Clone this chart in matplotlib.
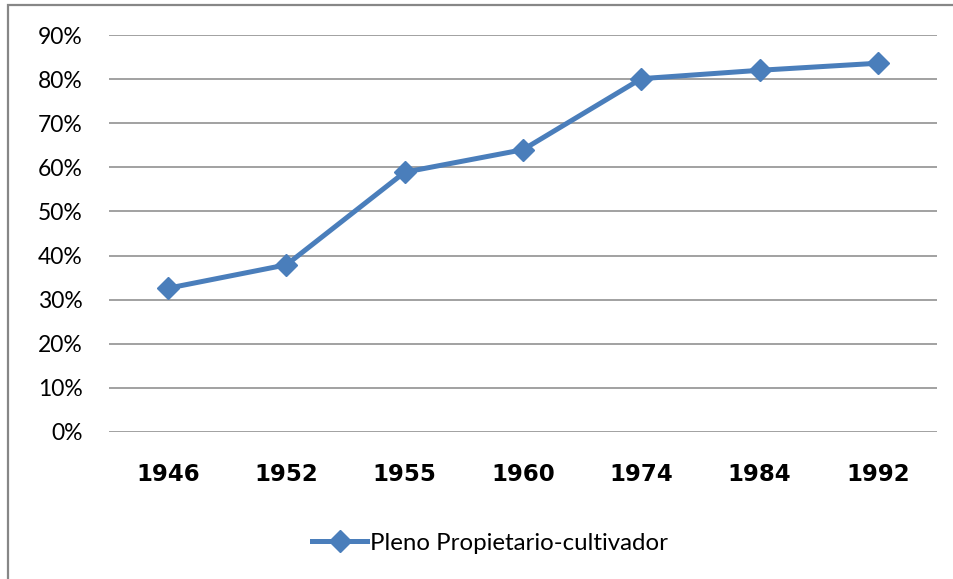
import matplotlib
matplotlib.use('Agg')
import matplotlib.pyplot as plt
from matplotlib.patches import Rectangle
from matplotlib.ticker import PercentFormatter

# datos
anios = ['1946', '1952', '1955', '1960', '1974', '1984', '1992']
propietario = [0.326, 0.379, 0.589, 0.640, 0.801, 0.820, 0.836]
serie = 'Pleno Propietario-cultivador'
yticks = [0.0, 0.1, 0.2, 0.3, 0.4, 0.5, 0.6, 0.7, 0.8, 0.9]

azul = '#4a7ebb'
gris = '#878787'

fig = plt.figure(figsize=(9.54, 5.79), dpi=100)
ax = fig.add_axes([109 / 954, 1 - 432 / 579, 828 / 954, 397 / 579])

# borde exterior del grafico (recortado a la derecha y abajo)
fig.patches.append(Rectangle((8 / 954, -0.1), 1.2, 1 - 5 / 579 + 0.1,
                             transform=fig.transFigure, fill=False,
                             edgecolor=gris, linewidth=1.6))

x = list(range(len(anios)))
ax.plot(x, propietario, color=azul, linewidth=3.6, marker='D',
        markersize=11, label=serie, zorder=3)

ax.set_xlim(-0.5, len(anios) - 0.5)
ax.set_ylim(0, 0.9)
ax.set_yticks(yticks)
ax.yaxis.set_major_formatter(PercentFormatter(1.0, decimals=0))
ax.set_xticks(x)
ax.set_xticklabels(anios)

ax.grid(axis='y', color=gris, linewidth=1.1)
ax.set_axisbelow(True)
for s in ax.spines.values():
    s.set_visible(False)

ax.tick_params(axis='y', length=0, pad=19, labelsize=16.5)
ax.tick_params(axis='x', length=0, pad=22, labelsize=16.5)
for t in ax.get_yticklabels():
    t.set_fontfamily('Lato')
for t in ax.get_xticklabels():
    t.set_fontfamily('DejaVu Sans')
    t.set_fontweight('bold')

fig.legend(loc='center', bbox_to_anchor=(490 / 954, 1 - 543 / 579),
           frameon=False, handlelength=2.3, handletextpad=0.1,
           prop={'family': 'Lato', 'size': 17.3})

fig.savefig('out.png', dpi=100)
